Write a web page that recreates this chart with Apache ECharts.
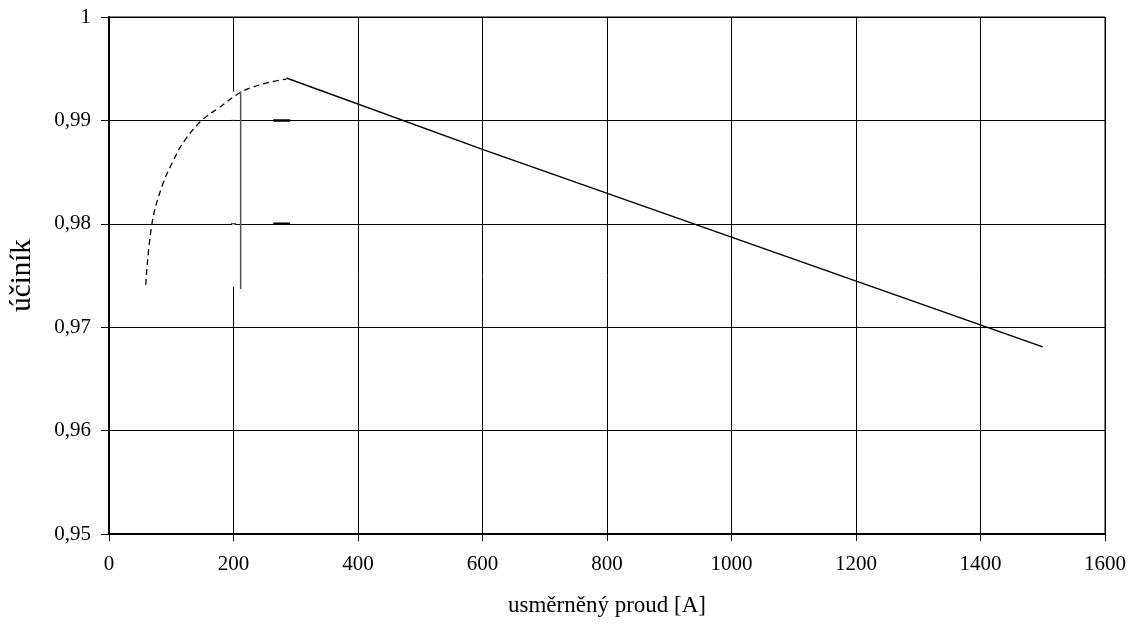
<!DOCTYPE html>
<html>
<head>
<meta charset="utf-8">
<script src="https://cdn.jsdelivr.net/npm/echarts@6/dist/echarts.min.js"></script>
<style>
html,body{margin:0;padding:0;background:#fff;}
#chart{width:1131px;height:631px;}
</style>
</head>
<body>
<div id="chart"></div>
<script>
// Dashed curve (low current region)
var curveX = [59, 69, 85, 104, 122, 149, 176, 211, 240, 267, 285];
var curveY = [0.9741, 0.9800, 0.9836, 0.9862, 0.9881, 0.9900, 0.9912, 0.9927, 0.9934, 0.9938, 0.9940];
// Solid line
var lineX = [285, 600, 1500];
var lineY = [0.9941, 0.9872, 0.9681];
// In the original the x=200 gridline is shifted to x≈211 between these values
var gapX = [200, 200];
var gapY = [0.9928, 0.9739];
var stray1X = [211.5, 211.5];
var stray1Y = [0.9928, 0.9737];
var stray2X = [200, 200];
var stray2Y = [0.9739, 0.9685];
// Restored gridline crossings
var crossAX = [196, 204];
var crossAY = [0.99, 0.99];
var crossBX = [196, 204];
var crossBY = [0.98, 0.98];
// Short thick marks on gridlines
var markAX = [264, 291];
var markAY = [0.99, 0.99];
var markBX = [264, 291];
var markBY = [0.98, 0.98];

var xTicks = [0, 200, 400, 600, 800, 1000, 1200, 1400, 1600];
var yTicks = [0.95, 0.96, 0.97, 0.98, 0.99, 1];

function pairs(xs, ys){ return xs.map(function(x,i){ return [x, ys[i]]; }); }

var font = 'Liberation Serif';
var chart = echarts.init(document.getElementById('chart'));
chart.setOption({
  animation: false,
  backgroundColor: '#fff',
  grid: {left: 107, right: 26, top: 17, bottom: 97, show: true, borderColor: '#000', borderWidth: 1},
  xAxis: {
    type: 'value', min: xTicks[0], max: xTicks[xTicks.length-1], interval: 200,
    name: 'usměrněný proud [A]', nameLocation: 'middle', nameGap: 60,
    nameTextStyle: {fontFamily: font, fontSize: 23, color: '#000'},
    axisLine: {show: true, onZero: false, lineStyle: {color: '#000', width: 2}},
    axisTick: {show: true, inside: false, length: 7, lineStyle: {color: '#000'}},
    axisLabel: {fontFamily: font, fontSize: 21, color: '#000', margin: 20,
      formatter: function(v){ return String(v); }},
    splitLine: {show: true, lineStyle: {color: '#000', width: 1}}
  },
  yAxis: {
    type: 'value', min: yTicks[0], max: yTicks[yTicks.length-1], interval: 0.01,
    name: 'účiník', nameLocation: 'middle', nameGap: 72, nameRotate: 90,
    nameTextStyle: {fontFamily: font, fontSize: 29, color: '#000'},
    axisLine: {show: true, lineStyle: {color: '#000', width: 2}},
    axisTick: {show: true, length: 8, lineStyle: {color: '#000'}},
    axisLabel: {fontFamily: font, fontSize: 21, color: '#000', margin: 18,
      formatter: function(v){ return String(Math.round(v*100)/100).replace('.', ','); }},
    splitLine: {show: true, lineStyle: {color: '#000', width: 1}}
  },
  series: [
    {type: 'line', data: pairs(gapX, gapY), showSymbol: false, silent: true,
      lineStyle: {color: '#fff', width: 3}},
    {type: 'line', data: pairs(crossAX, crossAY), showSymbol: false,
      lineStyle: {color: '#000', width: 1}},
    {type: 'line', data: pairs(crossBX, crossBY), showSymbol: false,
      lineStyle: {color: '#000', width: 1}},
    {type: 'line', data: pairs(curveX, curveY), smooth: 0.4, showSymbol: false,
      lineStyle: {color: '#000', width: 1.3, type: [6, 4]}},
    {type: 'line', data: pairs(lineX, lineY), showSymbol: false,
      lineStyle: {color: '#000', width: 1.5}},
    {type: 'line', data: pairs(stray1X, stray1Y), showSymbol: false,
      lineStyle: {color: '#555', width: 1.5}},
    {type: 'line', data: pairs(stray2X, stray2Y), showSymbol: false,
      lineStyle: {color: '#000', width: 1}},
    {type: 'line', data: pairs(markAX, markAY), showSymbol: false,
      lineStyle: {color: '#000', width: 2.5}},
    {type: 'line', data: pairs(markBX, markBY), showSymbol: false,
      lineStyle: {color: '#000', width: 2.5}}
  ]
});
</script>
</body>
</html>
